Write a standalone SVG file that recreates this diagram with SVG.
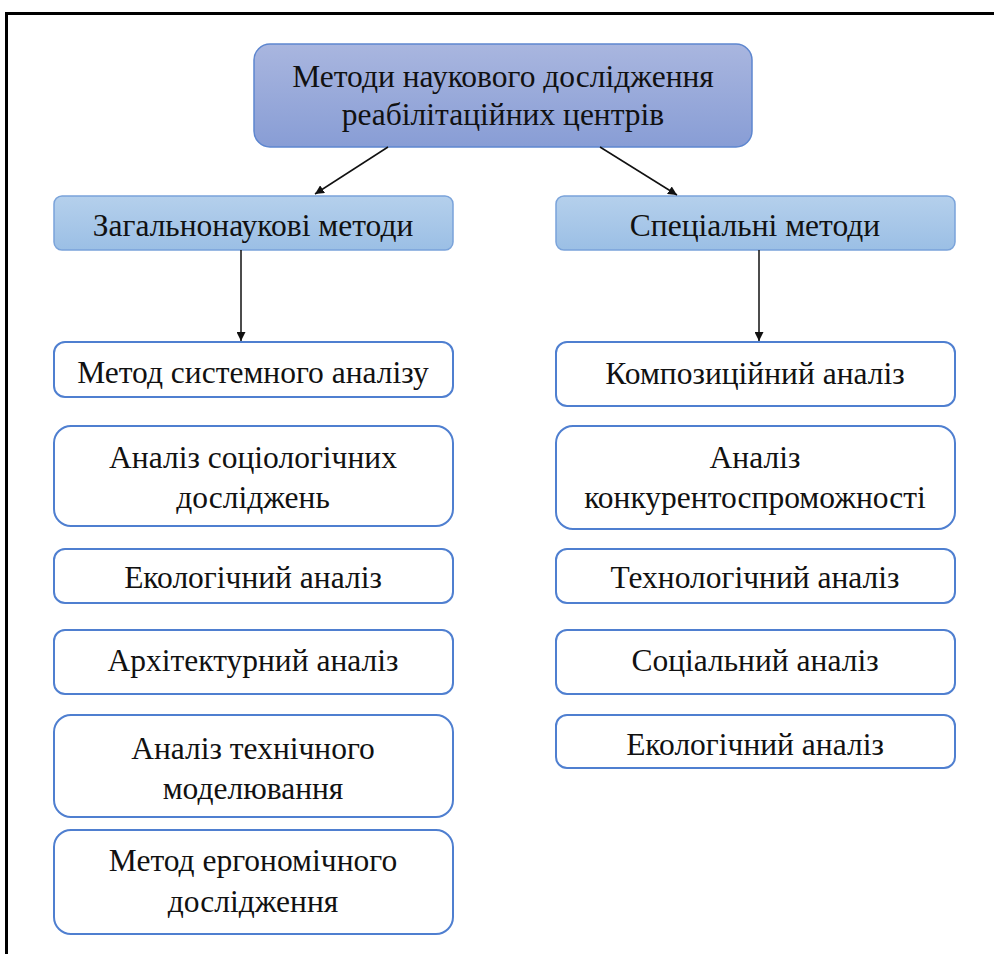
<svg xmlns="http://www.w3.org/2000/svg" width="994" height="954" viewBox="0 0 994 954">
<style>
text{font-family:'Liberation Serif','Times New Roman',serif;font-size:31.5px;fill:#111;text-anchor:middle}
.b{fill:#fff;stroke:#4f7fd0;stroke-width:2}
.c{fill:url(#gc);stroke:#7aa3da;stroke-width:1.5}
.t{fill:url(#gt);stroke:#5d86cf;stroke-width:1.5}
.a{stroke:#111;stroke-width:1.5;fill:none;marker-end:url(#ah)}
</style>
<defs>
<linearGradient id="gt" x1="0" y1="0" x2="0" y2="1"><stop offset="0" stop-color="#a9b6df"/><stop offset="1" stop-color="#889dd5"/></linearGradient>
<linearGradient id="gc" x1="0" y1="0" x2="0" y2="1"><stop offset="0" stop-color="#b5d0ec"/><stop offset="1" stop-color="#9bbfe5"/></linearGradient>
<marker id="ah" viewBox="0 0 10 10" refX="10" refY="5" markerWidth="9" markerHeight="9" markerUnits="userSpaceOnUse" orient="auto"><path d="M0,0L10,5L0,10z" fill="#111"/></marker>
</defs>
<rect width="994" height="954" fill="#fff"/>
<path d="M6.5,1000V13.5H1000" fill="none" stroke="#000" stroke-width="3"/>
<g id="root"><rect class="t" x="254" y="44" width="498" height="103" rx="16"/><text x="503" y="87">Методи наукового дослідження</text><text x="503" y="125">реабілітаційних центрів</text></g>
<g id="general"><rect class="c" x="54" y="196" width="399" height="54" rx="8"/><text x="253" y="236">Загальнонаукові методи</text></g>
<g id="special"><rect class="c" x="556" y="196" width="399" height="54" rx="8"/><text x="755" y="236">Спеціальні методи</text></g>
<g id="l1"><rect class="b" x="54" y="342" width="399" height="55" rx="11"/><text x="253" y="383">Метод системного аналізу</text></g>
<g id="l2"><rect class="b" x="54" y="426" width="399" height="100" rx="17"/><text x="253" y="468">Аналіз соціологічних</text><text x="253" y="508">досліджень</text></g>
<g id="l3"><rect class="b" x="54" y="549" width="399" height="54" rx="11"/><text x="253" y="588">Екологічний аналіз</text></g>
<g id="l4"><rect class="b" x="54" y="630" width="399" height="64" rx="11"/><text x="253" y="671">Архітектурний аналіз</text></g>
<g id="l5"><rect class="b" x="54" y="715" width="399" height="102" rx="17"/><text x="253" y="759">Аналіз технічного</text><text x="253" y="799">моделювання</text></g>
<g id="l6"><rect class="b" x="54" y="830" width="399" height="104" rx="17"/><text x="253" y="871">Метод ергономічного</text><text x="253" y="912">дослідження</text></g>
<g id="r1"><rect class="b" x="556" y="342" width="399" height="64" rx="11"/><text x="755" y="384">Композиційний аналіз</text></g>
<g id="r2"><rect class="b" x="556" y="426" width="399" height="103" rx="17"/><text x="755" y="468">Аналіз</text><text x="755" y="508">конкурентоспроможності</text></g>
<g id="r3"><rect class="b" x="556" y="549" width="399" height="54" rx="11"/><text x="755" y="588">Технологічний аналіз</text></g>
<g id="r4"><rect class="b" x="556" y="630" width="399" height="64" rx="11"/><text x="755" y="671">Соціальний аналіз</text></g>
<g id="r5"><rect class="b" x="556" y="715" width="399" height="53" rx="11"/><text x="755" y="755">Екологічний аналіз</text></g>
<g id="connectors">
<line class="a" x1="388" y1="147" x2="315" y2="194"/>
<line class="a" x1="600" y1="147" x2="677" y2="195"/>
<line class="a" x1="241" y1="250" x2="241" y2="341"/>
<line class="a" x1="759" y1="250" x2="759" y2="341"/>
</g>
</svg>
